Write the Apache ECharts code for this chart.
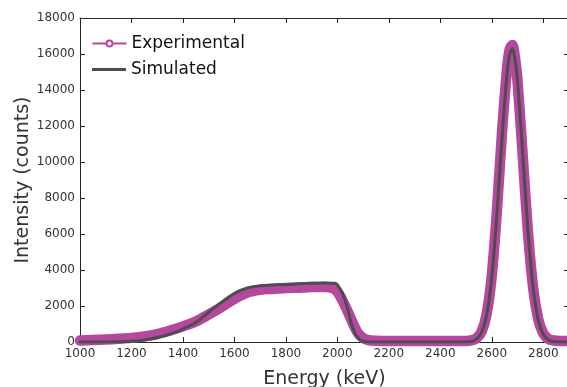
<!DOCTYPE html>
<html><head><meta charset="utf-8">
<script src="https://cdn.jsdelivr.net/npm/echarts@6/dist/echarts.min.js"></script>
<style>html,body{margin:0;padding:0;background:#fff}#c{width:567px;height:387px}</style>
</head><body><div id="c"></div>
<script>
var expE = [1000,1050,1100,1150,1200,1250,1300,1350,1400,1450,1500,1550,1600,1650,1700,1750,1800,1850,1900,1950,1980,2000,2020,2040,2060,2080,2100,2120,2150,2200,2300,2400,2500,2520,2540,2560,2580,2600,2620,2640,2660,2670,2680,2690,2700,2720,2740,2760,2780,2800,2820,2840,2870,2900];
var expV = [80,110,140,180,230,310,440,640,870,1140,1530,1950,2400,2750,2900,2950,3000,3020,3050,3050,3000,2800,2300,1700,1050,500,220,100,70,60,60,60,60,90,200,560,1550,3700,7300,11700,15300,16300,16500,15800,14500,10400,6200,3100,1300,480,170,80,60,60];
var simE = [1000,1100,1150,1200,1250,1300,1350,1400,1450,1500,1550,1600,1650,1700,1750,1800,1850,1900,1950,1990,2000,2010,2020,2030,2040,2050,2060,2070,2080,2090,2100,2120,2200,2300,2400,2500,2520,2540,2560,2580,2600,2620,2640,2660,2670,2680,2690,2700,2720,2740,2760,2780,2800,2820,2840,2860,2900];
var simV = [0,5,15,40,110,250,440,720,1080,1650,2200,2700,3000,3120,3170,3200,3230,3260,3280,3260,3180,2950,2700,2300,1850,1250,800,450,220,100,40,0,0,0,0,0,30,150,520,1500,3600,7100,11400,15000,16000,16300,15700,14500,10500,6300,3100,1250,420,110,25,0,0];
var xTicks = {min:1000, max:2900, interval:200};
var yTicks = {min:0, max:18000, interval:2000};

var MAG = '#b6479f', GRAY = '#4d4d4d', AX = '#262626';
var FONT = 'DejaVu Sans';
function zip(a,b){return a.map(function(v,i){return [v,b[i]];});}
function plain(v){return String(v);}
var chart = echarts.init(document.getElementById('c'), null, {renderer:'canvas'});
var axCommon = {
  axisLine:{show:true, onZero:false, lineStyle:{color:AX, width:1}},
  axisTick:{show:true, inside:true, length:5, lineStyle:{color:AX, width:1}},
  splitLine:{show:false}
};
var legText = {fontFamily:FONT, fontSize:17, color:'#111'};
chart.setOption({
  animation:false,
  textStyle:{fontFamily:FONT},
  grid:{left:80, top:18, width:489, height:324, containLabel:false, outerBoundsMode:'none'},
  legend:[
    {left:90, top:35, padding:0, itemWidth:34, itemHeight:6, textStyle:legText,
      data:[{name:'Experimental', icon:'path://M0,3 L14,3 M20,3 L34,3 M14,3 A3,3 0 1 1 20,3 A3,3 0 1 1 14,3',
        itemStyle:{color:'none', borderColor:MAG, borderWidth:2}}]},
    {left:92, top:61, padding:0, itemWidth:34, itemHeight:3, textStyle:legText,
      data:[{name:'Simulated', icon:'rect', itemStyle:{color:GRAY, borderWidth:0}}]}
  ],
  xAxis:[
    Object.assign({type:'value', position:'bottom', min:xTicks.min, max:xTicks.max, interval:xTicks.interval,
      name:'Energy (keV)', nameLocation:'middle', nameGap:28, nameMoveOverlap:false,
      nameTextStyle:{fontFamily:FONT, fontSize:19, color:'#333'},
      axisLabel:{fontFamily:FONT, fontSize:12, color:'#333', margin:6, showMaxLabel:false, formatter:plain}}, axCommon),
    Object.assign({type:'value', position:'top', min:xTicks.min, max:xTicks.max, interval:xTicks.interval,
      axisLabel:{show:false}}, axCommon)
  ],
  yAxis:[
    Object.assign({type:'value', position:'left', min:yTicks.min, max:yTicks.max, interval:yTicks.interval,
      name:'Intensity (counts)', nameLocation:'middle', nameGap:47, nameMoveOverlap:false,
      nameTextStyle:{fontFamily:FONT, fontSize:19, color:'#333'},
      axisLabel:{fontFamily:FONT, fontSize:12, color:'#333', margin:5, formatter:plain}}, axCommon),
    Object.assign({type:'value', position:'right', min:yTicks.min, max:yTicks.max, interval:yTicks.interval,
      axisLabel:{show:false}}, axCommon)
  ],
  series:[
    {name:'Experimental', type:'line', data:zip(expE,expV), showSymbol:false, symbol:'circle', smooth:0.3,
      lineStyle:{color:MAG, width:10.5, cap:'round', join:'round'}, itemStyle:{color:MAG}, z:2},
    {name:'Simulated', type:'line', data:zip(simE,simV), showSymbol:false, symbol:'none', smooth:0.3,
      lineStyle:{color:GRAY, width:3, cap:'round', join:'round'}, itemStyle:{color:GRAY}, z:3}
  ]
});
</script></body></html>
